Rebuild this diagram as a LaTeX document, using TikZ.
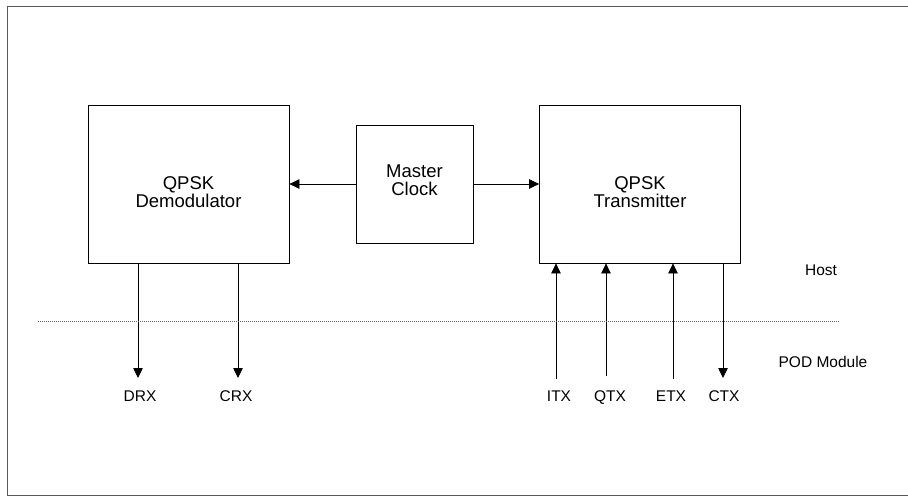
\documentclass[tikz,border=0pt]{standalone}
\usepackage{fontspec}
\setmainfont{Liberation Sans}
\usetikzlibrary{arrows.meta}

\begin{document}
\begin{tikzpicture}[x=1pt, y=-1pt, line width=0.8pt,
    blockbox/.style={draw, minimum width=201pt, minimum height=158pt, inner sep=0pt},
    blocktext/.style={align=center, font=\fontsize{18.5}{18.5}\selectfont},
    sig/.style={-{Triangle[length=10pt, width=9.5pt]}},
    pinlabel/.style={anchor=base, font=\fontsize{15.5}{15.5}\selectfont}]
            \useasboundingbox (0,0) rectangle (908,496);
            % Frame
            \draw[black!65] (908,6) -- (7,6) -- (7,495) -- (908,495);

            % Nodes
            \node[blockbox] (demod) at (188.5,184) {};
            \node[blockbox, minimum width=117pt, minimum height=118pt] (clock) at (414.5,184) {};
            \node[blockbox] (trans) at (640,184) {};
            \node[blocktext] (demodtxt) at ([yshift=-8pt]demod.center) {QPSK\\Demodulator};
            \node[blocktext] (clocktxt) at ([yshift=4pt]clock.center) {Master\\Clock};
            \node[blocktext] (transtxt) at ([yshift=-8pt]trans.center) {QPSK\\Transmitter};

            \node[pinlabel] (drx) at (140,401) {DRX};
            \node[pinlabel] (crx) at (236,401) {CRX};
            \node[pinlabel] (itx) at (559,401) {ITX};
            \node[pinlabel] (qtx) at (610,401) {QTX};
            \node[pinlabel] (etx) at (671,401) {ETX};
            \node[pinlabel] (ctx) at (724,401) {CTX};
            \node[pinlabel] (host) at (821,275) {Host};
            \node[pinlabel] (pod) at (823,367) {POD Module};

            % Pin ends
            \coordinate (drxend) at (138,378);
            \coordinate (crxend) at (238,378);
            \coordinate (itxend) at (556,379);
            \coordinate (qtxend) at (606,376);
            \coordinate (etxend) at (673,379);
            \coordinate (ctxend) at (723,378);
            \coordinate (sepl) at (38,321);
            \coordinate (sepr) at (840,321);

            % Lines
            \draw[sig] (clock.west) -- (demod.east);
            \draw[sig] (clock.east) -- (trans.west);
            \draw[sig] (demod.south -| drxend) -- (drxend);
            \draw[sig] (demod.south -| crxend) -- (crxend);
            \draw[sig] (itxend) -- (trans.south -| itxend);
            \draw[sig] (qtxend) -- (trans.south -| qtxend);
            \draw[sig] (etxend) -- (trans.south -| etxend);
            \draw[sig] (trans.south -| ctxend) -- (ctxend);
            \draw[black!60, line width=0.6pt, dash pattern=on 1pt off 1pt] (sepl) -- (sepr);
        \end{tikzpicture}
\end{document}
